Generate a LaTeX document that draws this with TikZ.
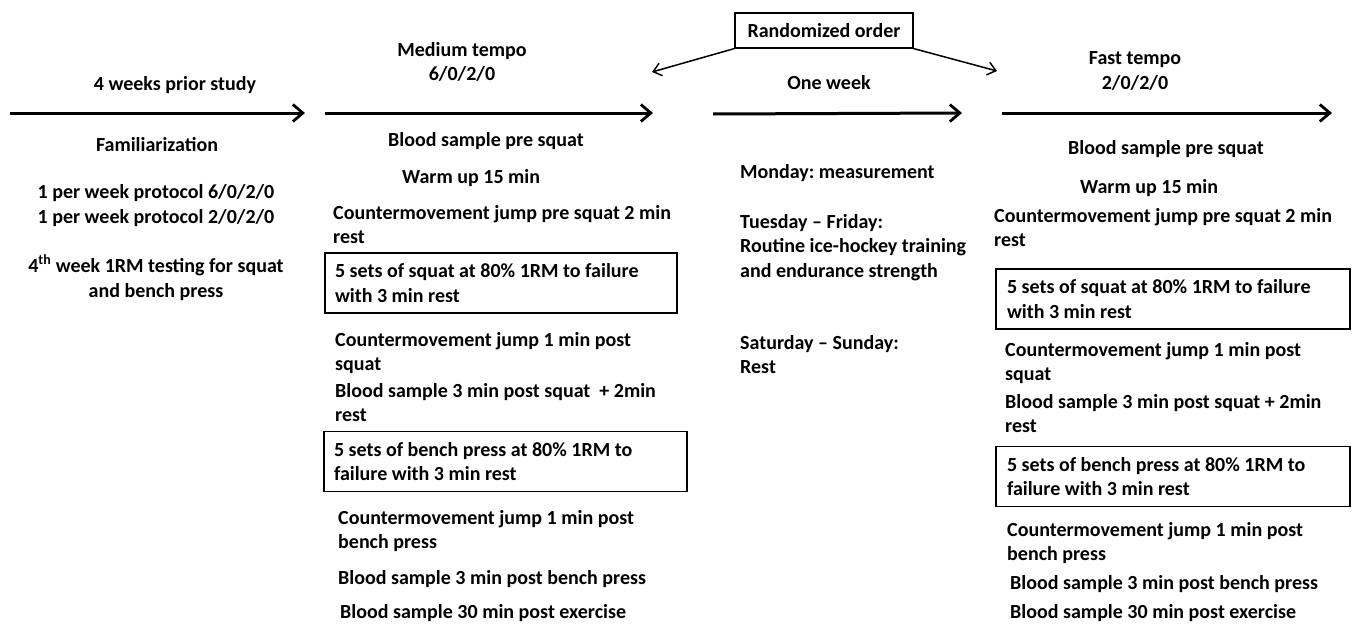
\documentclass[tikz,border=0pt]{standalone}
\usepackage{fontspec}
\setmainfont{Carlito}
\frenchspacing
\usetikzlibrary{arrows.meta,positioning,calc}
\tikzset{
	txt/.style={font=\bfseries\fontsize{20}{24.5}\selectfont,inner sep=0pt,anchor=base west,align=left},
	ctxt/.style={txt,anchor=base,align=center},
	setbox/.style={draw,line width=1.1pt,font=\bfseries\fontsize{20}{24.5}\selectfont,align=flush left,inner xsep=10pt,inner ysep=0pt,minimum height=60pt},
	timeline/.style={line width=3pt,-{Straight Barb[length=10pt,width=17pt,line width=2.8pt]}},
	orderarrow/.style={line width=1.5pt,-{Straight Barb[length=8pt,width=13pt,line width=1.5pt]}},
}
\begin{document}
\begin{tikzpicture}[x=1pt,y=-1pt]
	\useasboundingbox (0,0) rectangle (1366,626);
	% time lines
	\coordinate (t1s) at (10,113);
	\coordinate (t1e) at (305,113);
	\coordinate (t2s) at (325,113);
	\coordinate (t2e) at (653,113);
	\coordinate (t3s) at (713,114);
	\coordinate (t3e) at (962,113);
	\coordinate (t4s) at (1002,113);
	\coordinate (t4e) at (1332,113);
	\draw[timeline] (t1s) -- (t1e);
	\draw[timeline] (t2s) -- (t2e);
	\draw[timeline] (t3s) -- (t3e);
	\draw[timeline] (t4s) -- (t4e);

	% familiarization
	\node (famTime) at (175,91) [ctxt] {4 weeks prior study};
	\node (famHead) at (157,151) [ctxt] {Familiarization};
	\node (famProt) at (156,223) [ctxt] {1 per week protocol 6/0/2/0\\1 per week protocol 2/0/2/0};
	\node (famRM) at (156,297) [ctxt] {4\textsuperscript{th} week 1RM testing for squat\\and bench press};

	% medium tempo
	\node (medHead) at (462,81) [ctxt] {Medium tempo\\6/0/2/0};
	\node (medBlood) at (388,146) [txt] {Blood sample pre squat};
	\node (medWarm) at (402,183) [txt] {Warm up 15 min};
	\node (medJump) at (333,243.5) [txt] {Countermovement jump pre squat 2 min\\rest};
	\node (medSquat) at (501,283) [setbox,minimum width=352pt,text width=332pt] {5 sets of squat at 80\% 1RM to failure\\with 3 min rest};
	\node (medJumpSq) at (335,370.5) [txt] {Countermovement jump 1 min post\\squat};
	\node (medBloodSq) at (335,421.5) [txt] {Blood sample 3 min post squat~ + 2min\\rest};
	\node (medBench) at (505.5,461.5) [setbox,minimum width=363pt,text width=343pt] {5 sets of bench press at 80\% 1RM to\\failure with 3 min rest};
	\node (medJumpBp) at (338,548.5) [txt] {Countermovement jump 1 min post\\bench press};
	\node (medBloodBp) at (338,584) [txt] {Blood sample 3 min post bench press};
	\node (medBloodEx) at (340,618) [txt] {Blood sample 30 min post exercise};

	% week between
	\node (rnd) at (824,30.5) [draw,line width=1.1pt,font=\bfseries\fontsize{20}{24.5}\selectfont,minimum width=178pt,minimum height=35pt,inner sep=0pt] {Randomized order};
	\coordinate (rndL) at (652,72);
	\coordinate (rndR) at (997,71);
	\draw[orderarrow] (rnd.south west) -- (rndL);
	\draw[orderarrow] (rnd.south east) -- (rndR);
	\node (weekTime) at (829,89) [ctxt] {One week};
	\node (weekMon) at (740,178) [txt] {Monday: measurement};
	\node (weekTue) at (740,277) [txt] {Tuesday -- Friday:\\Routine ice-hockey training\\and endurance strength};
	\node (weekSat) at (740,373.5) [txt] {Saturday -- Sunday:\\Rest};

	% fast tempo
	\node (fastHead) at (1135,89) [ctxt] {Fast tempo\\2/0/2/0};
	\node (fastBlood) at (1068,154) [txt] {Blood sample pre squat};
	\node (fastWarm) at (1080,193) [txt] {Warm up 15 min};
	\node (fastJump) at (994,246.5) [txt] {Countermovement jump pre squat 2 min\\rest};
	\node (fastSquat) at (1173,299) [setbox,minimum width=354pt,text width=332pt,inner xsep=11pt] {5 sets of squat at 80\% 1RM to failure\\with 3 min rest};
	\node (fastJumpSq) at (1005,380.5) [txt] {Countermovement jump 1 min post\\squat};
	\node (fastBloodSq) at (1005,432.5) [txt] {Blood sample 3 min post squat + 2min\\rest};
	\node (fastBench) at (1173,476.5) [setbox,minimum width=354pt,text width=332pt,inner xsep=11pt] {5 sets of bench press at 80\% 1RM to\\failure with 3 min rest};
	\node (fastJumpBp) at (1007,560.5) [txt] {Countermovement jump 1 min post\\bench press};
	\node (fastBloodBp) at (1010,589) [txt] {Blood sample 3 min post bench press};
	\node (fastBloodEx) at (1010,618) [txt] {Blood sample 30 min post exercise};
\end{tikzpicture}
\end{document}
